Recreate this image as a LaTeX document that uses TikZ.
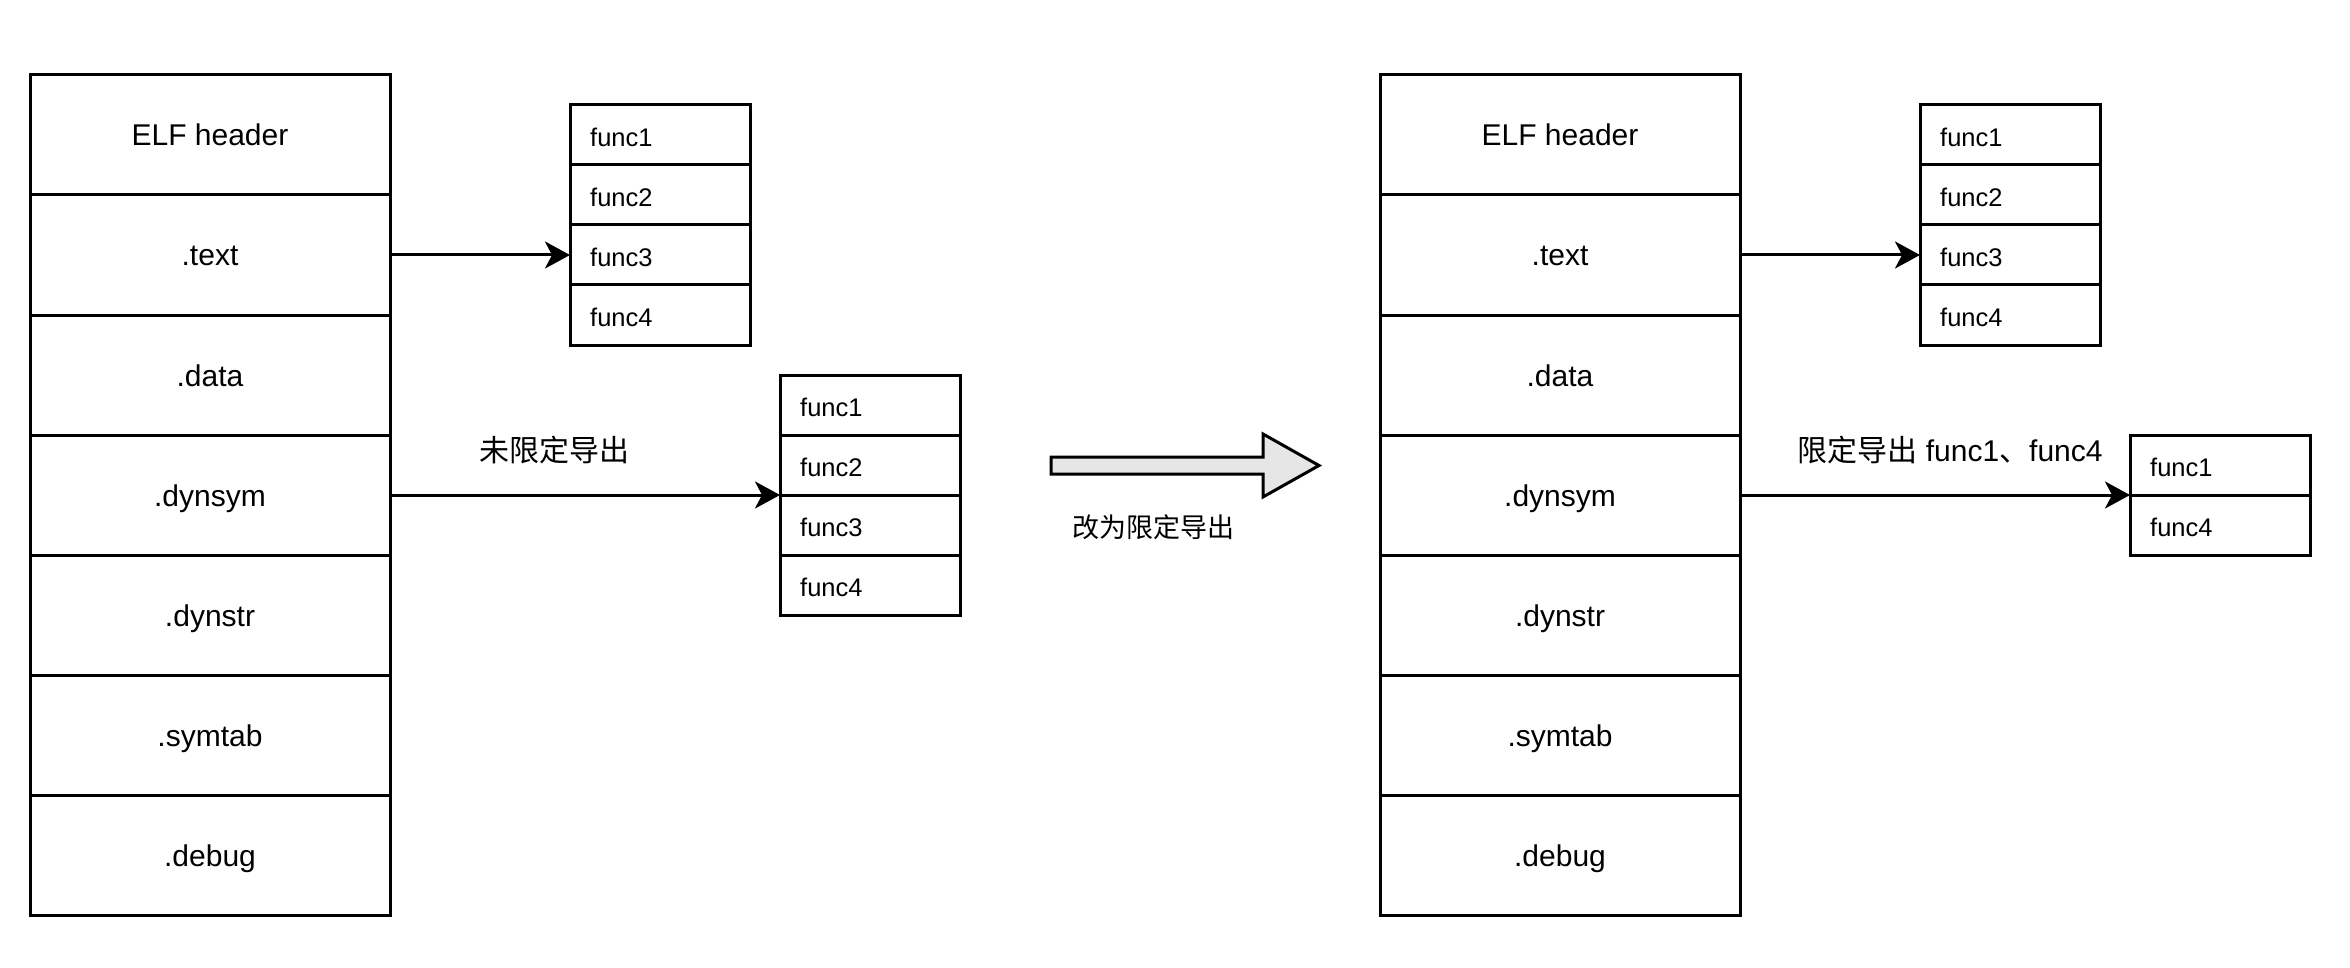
\documentclass[tikz,border=0pt]{standalone}
\usepackage{fontspec}
\setmainfont{Liberation Sans}
\newfontfamily\cjk{Noto Sans CJK SC}
\usetikzlibrary{arrows.meta}
\definecolor{arrowgray}{HTML}{E6E6E6}
\begin{document}
\begin{tikzpicture}[x=1pt,y=-1pt,
  secbox/.style={draw=black,line width=3pt,minimum width=360pt,minimum height=120pt,inner sep=0pt,outer sep=0pt,
    text height=22pt,text depth=0pt,font=\fontsize{30}{36}\selectfont},
  funcbox/.style={draw=black,line width=3pt,minimum width=180pt,minimum height=60pt,inner sep=0pt,outer sep=0pt},
  functext/.style={anchor=base west,inner sep=0pt,font=\fontsize{25.5}{30}\selectfont},
  conn/.style={line width=3pt,-{Stealth[length=25pt,width=27pt,inset=7pt]}},
  lbl/.style={inner sep=0pt,font=\fontsize{30}{36}\selectfont},
]
\useasboundingbox (0,0) rectangle (2350,968);

% left ELF table
\foreach \t [count=\i] in {ELF header,.text,.data,.dynsym,.dynstr,.symtab,.debug}{
  \node[secbox] (l\i) at (210,{75+120*\i-60}) {\t};
}
% right ELF table
\foreach \t [count=\i] in {ELF header,.text,.data,.dynsym,.dynstr,.symtab,.debug}{
  \node[secbox] (r\i) at (1560,{75+120*\i-60}) {\t};
}

% function boxes
\foreach \i in {1,...,4}{
  \node[funcbox] (A\i) at (660,{105+60*\i-30}) {};
  \node[functext,xshift=20pt,yshift=-11.7pt] (At\i) at (A\i.west) {func\i};
  \node[funcbox] (B\i) at (870,{375+60*\i-30}) {};
  \node[functext,xshift=20pt,yshift=-11.7pt] (Bt\i) at (B\i.west) {func\i};
  \node[funcbox] (C\i) at (2010,{105+60*\i-30}) {};
  \node[functext,xshift=20pt,yshift=-11.7pt] (Ct\i) at (C\i.west) {func\i};
}
\node[funcbox] (D1) at (2220,465) {};
\node[functext,xshift=20pt,yshift=-11.7pt] (Dt1) at (D1.west) {func1};
\node[funcbox] (D2) at (2220,525) {};
\node[functext,xshift=20pt,yshift=-11.7pt] (Dt2) at (D2.west) {func4};

% connectors
\draw[conn] (l2.east) -- (A3.west);
\draw[conn] (l4.east) -- (B2.south west);
\draw[conn] (r2.east) -- (C3.west);
\draw[conn] (r4.east) -- (D1.south west);

% labels
\node[lbl] (lab1) at (554,450.5) {\cjk 未限定导出};
\node[lbl] (lab2) at (1950,450) {\cjk 限定导出\normalfont{} func1\cjk 、\normalfont func4};

% big transition arrow
\draw[line width=3pt,fill=arrowgray,line join=miter]
  (1051,457) -- (1263,457) -- (1263,434) -- (1319,465.5) -- (1263,497) -- (1263,474) -- (1051,474) -- cycle;
\node[inner sep=0pt,font=\fontsize{27}{32}\selectfont] (lab3) at (1153,527) {\cjk 改为限定导出};
\end{tikzpicture}
\end{document}
